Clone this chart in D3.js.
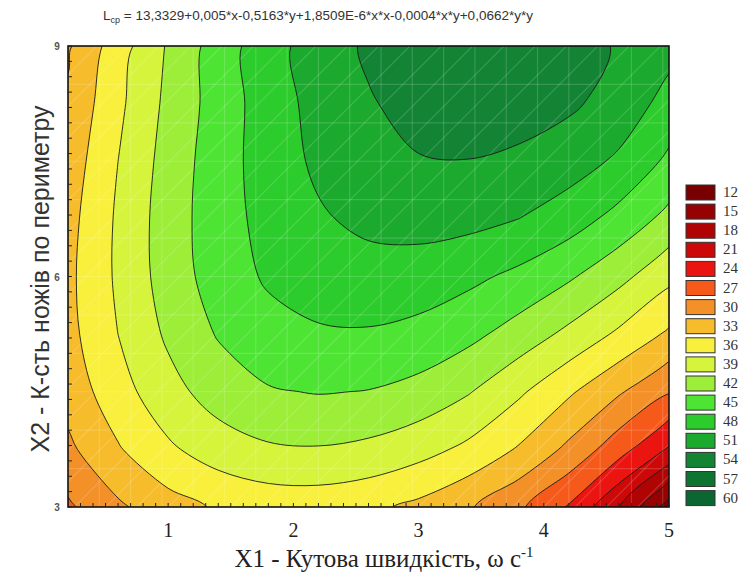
<!DOCTYPE html>
<html>
<head>
<meta charset="utf-8">
<script src="https://cdn.jsdelivr.net/npm/d3@7"></script>
<style>
  body { margin: 0; background: #fff; }
  svg { display: block; }
</style>
</head>
<body>
<script>
// values: columns = X1, rows = X2 (bottom to top)
var xValues = [0.2, 0.6, 1.0, 1.4, 1.8, 2.2, 2.6, 3.0, 3.4, 3.8, 4.2, 4.6, 5.0];
var yValues = [3, 3.75, 4.5, 5.25, 6, 6.75, 7.5, 8.25, 9];
var zRows = [
  [26.5, 29.5, 31.8, 33.35, 34.2, 34.3, 33.65, 32.3, 30.3, 27.5, 23.7, 18.1, 10.5],
  [29.37, 32.73, 35.5, 37.5, 38.6, 38.8, 38.3, 37.1, 35.3, 32.7, 29.3, 25.2, 20.6],
  [31.18, 34.81, 37.95, 40.35, 41.75, 42.15, 41.9, 41.0, 39.2, 36.5, 33.45, 30.35, 27.2],
  [32.09, 36.01, 39.5, 42.23, 43.93, 44.65, 44.73, 44.15, 42.8, 40.75, 38.28, 35.48, 32.5],
  [32.3, 36.5, 40.35, 43.4, 45.4, 46.45, 46.85, 46.6, 45.7, 44.3, 42.4, 39.9, 36.8],
  [31.98, 36.45, 40.5, 43.65, 46.0, 47.65, 48.7, 49.1, 48.85, 48.0, 46.4, 44.0, 41.1],
  [31.3, 36.0, 40.2, 43.6, 46.4, 48.55, 50.0, 50.85, 50.95, 50.5, 49.4, 47.5, 44.4],
  [30.45, 35.33, 39.73, 43.31, 46.49, 49.01, 50.76, 51.95, 52.25, 52.18, 51.47, 49.89, 46.9],
  [29.6, 34.6, 39.33, 43.41, 46.79, 49.47, 51.44, 52.71, 53.27, 53.13, 52.28, 50.73, 49.0]
];

// legend levels (upper bound of each band) and their colours
var levels = [12, 15, 18, 21, 24, 27, 30, 33, 36, 39, 42, 45, 48, 51, 54, 57, 60];
var levelColors = ['#780000', '#960202', '#b00404', '#cc0808', '#ea1410', '#f65a1a',
  '#f39028', '#f6bc2c', '#f8f03c', '#d6f43c', '#9cee38', '#4ee434', '#2ccc2c',
  '#1caa2e', '#138434', '#0e7432', '#0b6632'];

var xTicks = [1, 2, 3, 4, 5];
var yTicks = [3, 6, 9];

var width = 747, height = 576;
var plot = {left: 68, top: 46, right: 669, bottom: 507};

var svg = d3.select('body').append('svg')
  .attr('width', width)
  .attr('height', height);

var x = d3.scaleLinear().domain([0.2, 5]).range([plot.left, plot.right]);
var y = d3.scaleLinear().domain([3, 9]).range([plot.bottom, plot.top]);

var nx = xValues.length, ny = yValues.length;
var values = [];
zRows.forEach(function (row) { row.forEach(function (v) { values.push(v); }); });

// contour grid coords -> data coords (d3.contours puts sample i at i + 0.5)
var gx = d3.scaleLinear().domain([0.5, nx - 0.5]).range([xValues[0], xValues[nx - 1]]);
var gy = d3.scaleLinear().domain([0.5, ny - 0.5]).range([yValues[0], yValues[ny - 1]]);

var contours = d3.contours()
  .size([nx, ny])
  .thresholds(levels.slice(0, -1))(values);

// draw the rings as smooth closed curves in pixel space
var ringLine = d3.line().curve(d3.curveCatmullRomClosed.alpha(0.5));
function contourPath(mp) {
  return mp.coordinates.map(function (polygon) {
    return polygon.map(function (ring) {
      var pts = ring.slice(0, -1).map(function (p) { return [x(gx(p[0])), y(gy(p[1]))]; });
      return ringLine(pts);
    }).join('');
  }).join('');
}

svg.append('clipPath').attr('id', 'clip')
  .append('rect')
  .attr('x', plot.left).attr('y', plot.top)
  .attr('width', plot.right - plot.left).attr('height', plot.bottom - plot.top);

var g = svg.append('g').attr('clip-path', 'url(#clip)');

g.append('rect')
  .attr('x', plot.left).attr('y', plot.top)
  .attr('width', plot.right - plot.left).attr('height', plot.bottom - plot.top)
  .attr('fill', levelColors[0]);

// filled bands
g.selectAll('path.band')
  .data(contours)
  .enter().append('path')
  .attr('class', 'band')
  .attr('d', contourPath)
  .attr('fill-rule', 'evenodd')
  .attr('fill', function (d, i) { return levelColors[i + 1]; });

// faint surface mesh showing through
var mesh = g.append('g')
  .attr('stroke', '#fff')
  .attr('stroke-opacity', 0.16)
  .attr('stroke-width', 1.2);
mesh.selectAll('line.v')
  .data(d3.range(0.45, 5, 0.25))
  .enter().append('line')
  .attr('x1', function (d) { return x(d); }).attr('x2', function (d) { return x(d); })
  .attr('y1', plot.top).attr('y2', plot.bottom);
mesh.selectAll('line.h')
  .data(d3.range(3.5, 9, 0.5))
  .enter().append('line')
  .attr('x1', plot.left).attr('x2', plot.right)
  .attr('y1', function (d) { return y(d); }).attr('y2', function (d) { return y(d); });
mesh.selectAll('line.d')
  .data(d3.range(-6, 5.2, 0.25))
  .enter().append('line')
  .attr('x1', function (d) { return x(d); }).attr('y1', plot.bottom)
  .attr('x2', function (d) { return x(d) + 480; }).attr('y2', plot.bottom - 480);

// contour lines
g.selectAll('path.line')
  .data(contours)
  .enter().append('path')
  .attr('class', 'line')
  .attr('d', contourPath)
  .attr('fill', 'none')
  .attr('stroke', '#1a1a1a')
  .attr('stroke-width', 0.9);

// frame
svg.append('rect')
  .attr('x', plot.left).attr('y', plot.top)
  .attr('width', plot.right - plot.left).attr('height', plot.bottom - plot.top)
  .attr('fill', 'none')
  .attr('stroke', '#111')
  .attr('stroke-width', 1.6);

// inward minor ticks on left and bottom edges
svg.append('g').selectAll('line')
  .data(d3.range(3, 9.001, 0.2))
  .enter().append('line')
  .attr('x1', plot.left).attr('x2', plot.left + 4)
  .attr('y1', function (d) { return y(d); }).attr('y2', function (d) { return y(d); })
  .attr('stroke', '#222').attr('stroke-width', 1);

svg.append('g').selectAll('line')
  .data(d3.range(0.3, 5.001, 0.1))
  .enter().append('line')
  .attr('x1', function (d) { return x(d); }).attr('x2', function (d) { return x(d); })
  .attr('y1', plot.bottom).attr('y2', plot.bottom - 4)
  .attr('stroke', '#222').attr('stroke-width', 1);

// tick labels
svg.append('g').selectAll('text')
  .data(xTicks)
  .enter().append('text')
  .attr('x', function (d) { return x(d); })
  .attr('y', 537)
  .attr('text-anchor', 'middle')
  .attr('font-family', 'Liberation Serif, Times New Roman, serif')
  .attr('font-size', 20)
  .attr('fill', '#222')
  .text(function (d) { return d; });

svg.append('g').selectAll('text')
  .data(yTicks)
  .enter().append('text')
  .attr('x', 57)
  .attr('y', function (d) { return y(d) + 4; })
  .attr('text-anchor', 'middle')
  .attr('font-family', 'Liberation Sans, Arial, sans-serif')
  .attr('font-size', 10)
  .attr('font-weight', 'bold')
  .attr('fill', '#555')
  .text(function (d) { return d; });

// axis titles
var xt = svg.append('text')
  .attr('x', 384).attr('y', 567)
  .attr('text-anchor', 'middle')
  .attr('font-family', 'Liberation Serif, Times New Roman, serif')
  .attr('font-size', 25)
  .attr('fill', '#222');
xt.append('tspan').text('X1 - Кутова швидкість, ω  с');
xt.append('tspan').attr('dy', -10).attr('font-size', 15).text('-1');

svg.append('text')
  .attr('transform', 'translate(49,279) rotate(-90)')
  .attr('text-anchor', 'middle')
  .attr('font-family', 'Liberation Sans, Arial, sans-serif')
  .attr('font-size', 25)
  .attr('fill', '#333')
  .text('X2 - К-сть ножів по периметру');

// formula title
var tt = svg.append('text')
  .attr('x', 318).attr('y', 20)
  .attr('text-anchor', 'middle')
  .attr('font-family', 'Liberation Sans, Arial, sans-serif')
  .attr('font-size', 13.5)
  .attr('fill', '#333');
tt.append('tspan').text('L');
tt.append('tspan').attr('dy', 3).attr('font-size', 9).text('cp');
tt.append('tspan').attr('dy', -3).text(' = 13,3329+0,005*x-0,5163*y+1,8509E-6*x*x-0,0004*x*y+0,0662*y*y');

// legend
var legend = svg.append('g').selectAll('g')
  .data(levels)
  .enter().append('g')
  .attr('transform', function (d, i) { return 'translate(686,' + (185 + i * 19.1) + ')'; });

legend.append('rect')
  .attr('width', 29).attr('height', 15)
  .attr('fill', function (d, i) { return levelColors[i]; })
  .attr('stroke', '#333').attr('stroke-width', 1);

legend.append('text')
  .attr('x', 37).attr('y', 12)
  .attr('font-family', 'Liberation Serif, Times New Roman, serif')
  .attr('font-size', 15)
  .attr('fill', '#333')
  .text(function (d) { return d; });
</script>
</body>
</html>
